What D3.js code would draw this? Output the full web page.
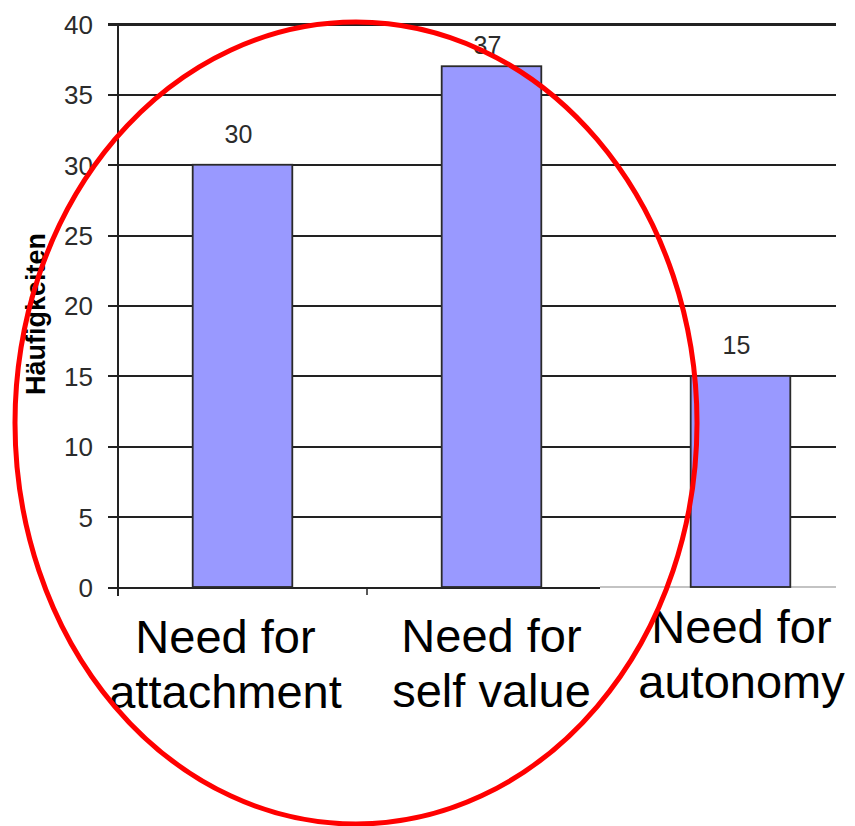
<!DOCTYPE html>
<html>
<head>
<meta charset="utf-8">
<script src="https://cdn.jsdelivr.net/npm/d3@7/dist/d3.min.js"></script>
<style>
  html, body { margin: 0; padding: 0; background: #fff; }
  svg { display: block; }
  text { font-family: "Liberation Sans", Arial, sans-serif; }
</style>
</head>
<body>
<svg id="chart" width="855" height="826"></svg>
<script>
// Data
const categories = ["Need for attachment", "Need for self value", "Need for autonomy"];
const labelLines = [["Need for", "attachment"], ["Need for", "self value"], ["Need for", "autonomy"]];
const values = [30, 37, 15];
const yTicks = [0, 5, 10, 15, 20, 25, 30, 35, 40];
const yTitle = "Häufigkeiten";

// Layout
const W = 855, H = 826;
const plot = { left: 118, right: 836, top: 24, bottom: 587 };
const bandEnd = plot.left + 3 * 249;              // category bands run past the right edge
const labelDx = [-17, 0, 1];                       // horizontal nudges for the category captions
const labelBase = [653, 652, 643];                 // first-line baselines of the captions
const lineGap = 55;

const svg = d3.select("#chart");

const x = d3.scaleBand()
  .domain(categories)
  .range([plot.left, bandEnd])
  .paddingInner(0.6)
  .paddingOuter(0.3);

const y = d3.scaleLinear()
  .domain([0, 40])
  .range([plot.bottom, plot.top]);

// Horizontal gridlines plus the short ticks left of the axis
const yAxis = d3.axisLeft(y)
  .tickValues(yTicks)
  .tickSize(-(plot.right - plot.left))
  .tickSizeOuter(0)
  .tickPadding(25)
  .tickFormat(d3.format("d"));

const gy = svg.append("g")
  .attr("transform", `translate(${plot.left},0)`)
  .call(yAxis);
gy.select(".domain").remove();
gy.selectAll(".tick line")
  .attr("x1", -10)
  .attr("stroke", "#222")
  .attr("stroke-width", 2)
  .attr("shape-rendering", "crispEdges");
gy.selectAll(".tick")
  .filter(d => d === 40)
  .select("line")
  .attr("stroke-width", 3);
gy.selectAll(".tick")
  .filter(d => d === 0)
  .select("line")
  .attr("x2", 600 - plot.left);
gy.selectAll(".tick text")
  .attr("font-family", "'Liberation Sans', Arial, sans-serif")
  .attr("font-size", 26)
  .attr("fill", "#2b2b2b")
  .attr("dy", "0.36em");

// Lighter baseline continuation on the right
svg.append("line")
  .attr("x1", 600).attr("x2", plot.right)
  .attr("y1", y(0)).attr("y2", y(0))
  .attr("stroke", "#888")
  .attr("stroke-width", 1.2);

// Vertical axis line
svg.append("line")
  .attr("x1", plot.left).attr("x2", plot.left)
  .attr("y1", plot.top).attr("y2", plot.bottom + 9)
  .attr("stroke", "#222")
  .attr("stroke-width", 2)
  .attr("shape-rendering", "crispEdges");

// Category boundary tick (between first and second band)
const step = x.step();
[1].forEach(i => {
  const bx = plot.left + i * step;
  svg.append("line")
    .attr("x1", bx).attr("x2", bx)
    .attr("y1", plot.bottom).attr("y2", plot.bottom + 8)
    .attr("stroke", "#222")
    .attr("stroke-width", 1.5);
});

// Bars
svg.append("g")
  .selectAll("rect")
  .data(values)
  .join("rect")
  .attr("x", (d, i) => x(categories[i]))
  .attr("y", d => y(d))
  .attr("width", x.bandwidth())
  .attr("height", d => y(0) - y(d))
  .attr("fill", "#9999ff")
  .attr("stroke", "#2a2a2a")
  .attr("stroke-width", 1.8);

// Value labels
svg.append("g")
  .selectAll("text")
  .data(values)
  .join("text")
  .attr("x", (d, i) => x(categories[i]) + x.bandwidth() / 2 - 4)
  .attr("y", d => Math.max(y(d) - 22, plot.top + 30))
  .attr("text-anchor", "middle")
  .attr("font-size", 25)
  .attr("fill", "#2b2b2b")
  .text(d => d);

// Category captions
const cap = svg.append("g");
labelLines.forEach((lines, i) => {
  const cx = x(categories[i]) + x.bandwidth() / 2 + labelDx[i];
  lines.forEach((ln, j) => {
    cap.append("text")
      .attr("x", cx)
      .attr("y", labelBase[i] + j * lineGap)
      .attr("text-anchor", "middle")
      .attr("font-size", 47)
      .attr("fill", "#000")
      .text(ln);
  });
});

// Y axis title
svg.append("text")
  .attr("transform", `translate(45,314) rotate(-90)`)
  .attr("text-anchor", "middle")
  .attr("font-size", 27)
  .attr("font-weight", "bold")
  .attr("fill", "#000")
  .text(yTitle);

// Red highlight ellipse
svg.append("ellipse")
  .attr("cx", 356)
  .attr("cy", 423)
  .attr("rx", 341)
  .attr("ry", 401)
  .attr("fill", "none")
  .attr("stroke", "#ff0000")
  .attr("stroke-width", 5);
</script>
</body>
</html>
